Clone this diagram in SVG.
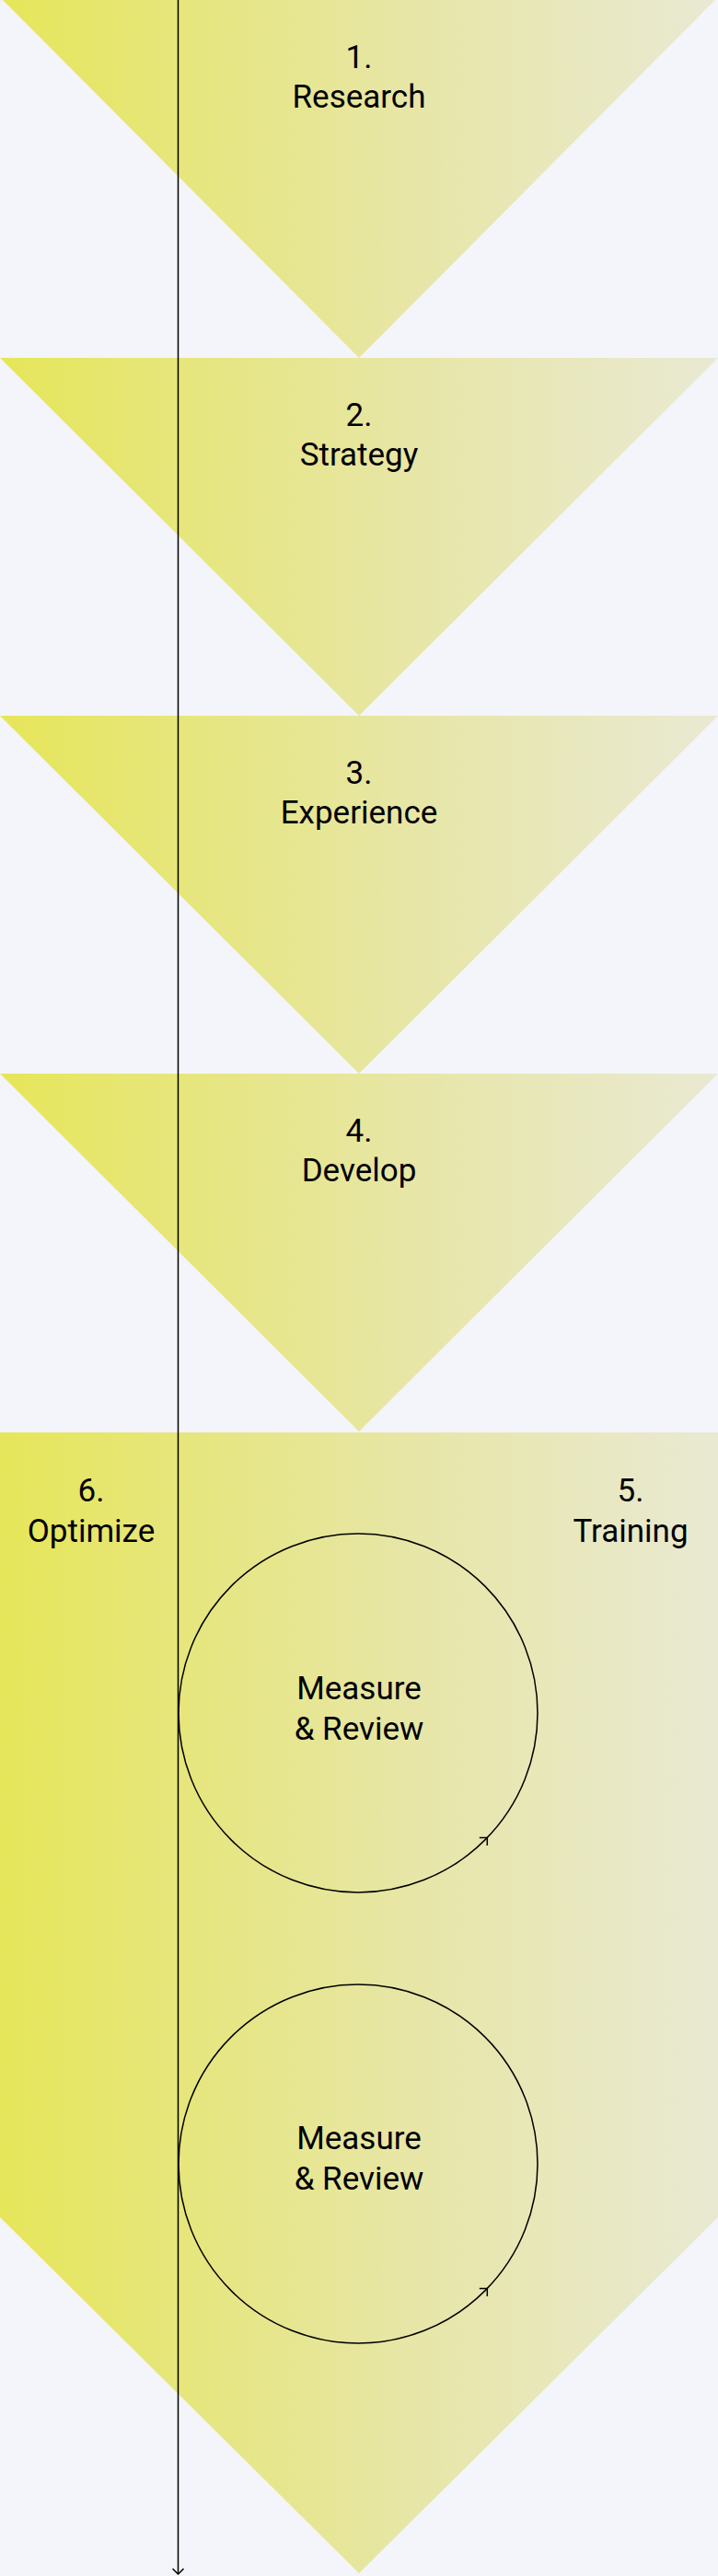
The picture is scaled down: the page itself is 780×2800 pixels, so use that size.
<svg xmlns="http://www.w3.org/2000/svg" width="780" height="2800" viewBox="0 0 780 2800">
  <defs>
    <linearGradient id="fillGrad" gradientUnits="userSpaceOnUse" x1="0" y1="0" x2="780" y2="0">
      <stop offset="0" stop-color="#e6e65a"/>
      <stop offset="0.25" stop-color="#e6e67c"/>
      <stop offset="0.55" stop-color="#e7e6a4"/>
      <stop offset="1" stop-color="#e9e9d3"/>
    </linearGradient>
    <marker id="arrow" viewBox="0 0 14 14" refX="7" refY="7" markerWidth="14" markerHeight="14" markerUnits="userSpaceOnUse" orient="auto">
      <path d="M1,1 L7,7 L1,13" fill="none" stroke="#000" stroke-width="1.5"/>
    </marker>
  </defs>
  <style>
    .shape { fill: url(#fillGrad); }
    .label { font-family: Roboto, "Liberation Sans", sans-serif; font-size: 35px; fill: #000; text-anchor: middle; }
    .ring { fill: none; stroke: #000; stroke-width: 1.5; }
    .conn { fill: none; stroke: #000; stroke-width: 1.5; }
  </style>
  <rect x="0" y="0" width="780" height="2800" fill="#f3f5fa"/>

  <g id="step1">
    <polygon class="shape" points="3,0 777,0 390,389"/>
    <text class="label" x="390" y="74">1.</text>
    <text class="label" x="390" y="117">Research</text>
  </g>
  <g id="step2">
    <polygon class="shape" points="0,389 780,389 390,778"/>
    <text class="label" x="390" y="463">2.</text>
    <text class="label" x="390" y="506">Strategy</text>
  </g>
  <g id="step3">
    <polygon class="shape" points="0,778 780,778 390,1167"/>
    <text class="label" x="390" y="852">3.</text>
    <text class="label" x="390" y="895">Experience</text>
  </g>
  <g id="step4">
    <polygon class="shape" points="0,1167 780,1167 390,1556"/>
    <text class="label" x="390" y="1241">4.</text>
    <text class="label" x="390" y="1284">Develop</text>
  </g>
  <g id="step5-6">
    <polygon class="shape" points="0,1557 780,1557 780,2410 390,2797 0,2410"/>
    <text class="label" x="99" y="1632">6.</text>
    <text class="label" x="99" y="1676">Optimize</text>
    <text class="label" x="685" y="1632">5.</text>
    <text class="label" x="685" y="1676">Training</text>
  </g>
  <g id="review1">
    <circle class="ring" cx="389" cy="1862" r="195"/>
    <text class="label" x="390" y="1847">Measure</text>
    <text class="label" x="390" y="1891">&amp; Review</text>
  </g>
  <g id="review2">
    <circle class="ring" cx="389" cy="2352" r="195"/>
    <text class="label" x="390" y="2336">Measure</text>
    <text class="label" x="390" y="2380">&amp; Review</text>
  </g>

  <g id="connectors">
    <path class="conn" d="M528.6,1998.2 L529.3,1997.5" marker-end="url(#arrow)"/>
    <path class="conn" d="M528.6,2488.2 L529.3,2487.5" marker-end="url(#arrow)"/>
    <path class="conn" d="M193.5,0 L193.5,2798" marker-end="url(#arrow)"/>
  </g>
</svg>
